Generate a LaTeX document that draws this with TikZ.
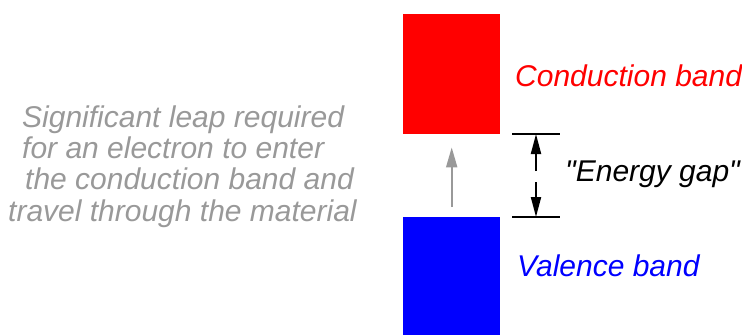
\documentclass[tikz,border=0pt]{standalone}
\usepackage{fontspec}
\setmainfont{Liberation Sans}
\usepackage{xcolor}
\usetikzlibrary{positioning}
\usetikzlibrary{arrows.meta}
\definecolor{leapgray}{RGB}{153,153,153}

\begin{document}
\begin{tikzpicture}[x=1pt, y=-1pt,
		band/.style={draw=none, inner sep=0pt, minimum width=97pt, anchor=north west},
		bandtext/.style={inner sep=0pt, anchor=base west, font=\fontsize{30}{31}\selectfont\itshape},
		gaptip/.style={-{Triangle[length=20pt, width=10pt]}, line width=2pt},
		dimline/.style={line width=1.6pt}
	]
		\useasboundingbox (0,0) rectangle (742,335);
		
		%bands
		\node[band, fill=red, minimum height=120pt] (cb) at (403,14) {};
		\node[band, fill=blue, minimum height=118pt] (vb) at (403,217) {};
		
		%labels
		\node[bandtext, text=red] (cbl) at (515,86) {Conduction band};
		\node[bandtext, text=blue] (vbl) at (517,276) {Valence band};
		
		%leap
		\draw[-{Triangle[length=20pt, width=11pt]}, line width=2pt, leapgray]
			([yshift=10pt]vb.north) -- ([yshift=-13pt]cb.south);
		\node[inner sep=0pt, anchor=base west, align=left, text=leapgray,
			font=\fontsize{30}{31.3}\selectfont\itshape] (leap) at (8,221)
			{\hspace*{14pt}Significant leap required\\\hspace*{14pt}for an electron to enter\\\hspace*{17pt}the conduction band and\\travel through the material};
		
		%energy gap
		\coordinate (gt) at (536,134);
		\coordinate (gb) at (536,217);
		\draw[dimline] ([xshift=-24pt]gt) -- ([xshift=24pt]gt);
		\draw[dimline] ([xshift=-24pt]gb) -- ([xshift=24pt]gb);
		\draw[gaptip] ([yshift=-37pt]gt) -- (gt);
		\draw[gaptip] ([yshift=35pt]gb) -- (gb);
		\node[bandtext] (gap) at (565,181) {\textquotedbl Energy gap\textquotedbl};
	\end{tikzpicture}
\end{document}
